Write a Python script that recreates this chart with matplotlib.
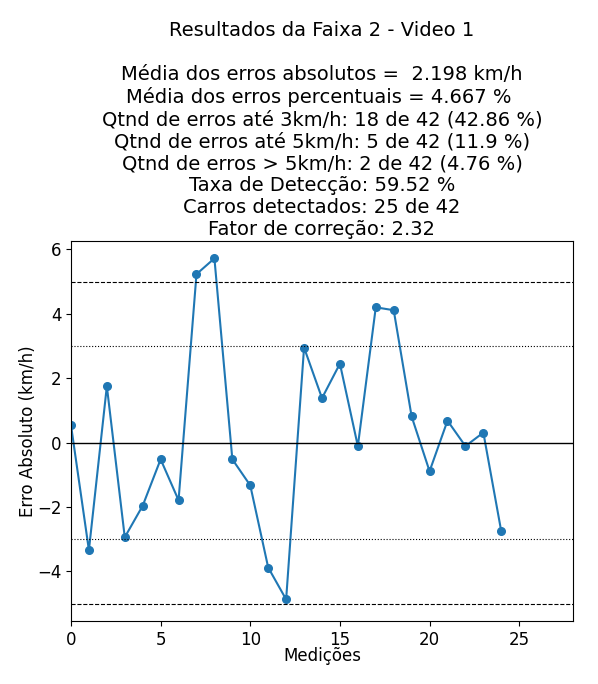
import matplotlib
matplotlib.use('Agg')
import matplotlib.pyplot as plt

erros = [0.54, -3.34, 1.75, -2.94, -1.96, -0.52, -1.79, 5.23, 5.72, -0.52,
         -1.33, -3.88, -4.87, 2.95, 1.38, 2.45, -0.11, 4.20, 4.11, 0.81,
         -0.89, 0.68, -0.11, 0.31, -2.76]
medicoes = list(range(len(erros)))

titulo = ("Resultados da Faixa 2 - Video 1\n\n"
          "Média dos erros absolutos =  2.198 km/h\n"
          "Média dos erros percentuais = 4.667 % \n"
          "Qtnd de erros até 3km/h: 18 de 42 (42.86 %)\n"
          "Qtnd de erros até 5km/h: 5 de 42 (11.9 %)\n"
          "Qtnd de erros > 5km/h: 2 de 42 (4.76 %)\n"
          "Taxa de Detecção: 59.52 %\n"
          "Carros detectados: 25 de 42\n"
          "Fator de correção: 2.32")

fig = plt.figure(figsize=(5.98, 6.84), dpi=100)
ax = fig.add_axes([0.1187, 0.0921, 0.8395, 0.5556])

ax.plot(medicoes, erros, marker='o', markersize=5.5, color='#1f77b4')
ax.axhline(0, color='black', linewidth=1)
ax.axhline(3, color='black', linewidth=0.8, linestyle=':')
ax.axhline(-3, color='black', linewidth=0.8, linestyle=':')
ax.axhline(5, color='black', linewidth=0.8, linestyle='--')
ax.axhline(-5, color='black', linewidth=0.8, linestyle='--')

ax.set_xlim(0, 28)
ax.set_ylim(-5.54, 6.26)
ax.set_xlabel('Medições', fontsize=12, labelpad=-1)
ax.set_ylabel('Erro Absoluto (km/h)', fontsize=12, labelpad=0)
ax.tick_params(labelsize=12)
ax.set_title(titulo, fontsize=14, pad=4)

fig.savefig('out.png', dpi=100)
